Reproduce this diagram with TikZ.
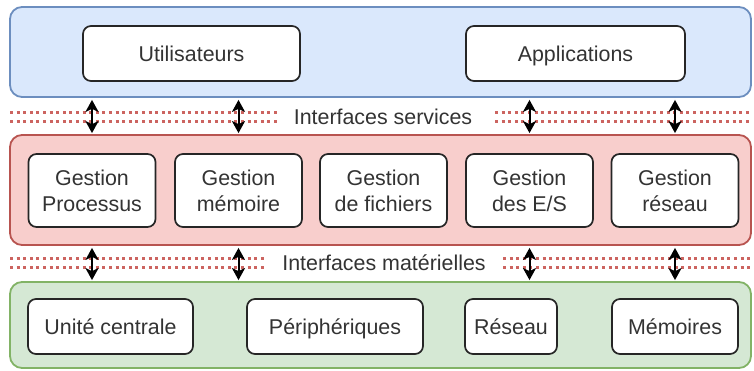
\documentclass[tikz,border=0pt]{standalone}
\usepackage{fontspec}
\setmainfont{Liberation Sans}
\usetikzlibrary{arrows.meta}

\definecolor{userfill}{HTML}{DAE8FC}
\definecolor{userdraw}{HTML}{6C8EBF}
\definecolor{sysfill}{HTML}{F8CECC}
\definecolor{sysdraw}{HTML}{B85450}
\definecolor{hwfill}{HTML}{D5E8D4}
\definecolor{hwdraw}{HTML}{82B366}
\definecolor{itfdots}{HTML}{CC6460}

\tikzset{
  layer/.style={draw, line width=1.8pt, rounded corners=12pt, inner sep=0pt,
                minimum width=741pt},
  bloc/.style={draw=black!85, fill=white, line width=1.7pt, rounded corners=8pt,
               inner sep=0pt, align=center, text=black!80},
  ligne/.style={text height=15.3pt, text depth=0pt},
  itf/.style={itfdots, line width=3pt, dash pattern=on 3pt off 3.6pt},
  biarrow/.style={line width=2pt, shorten <=2pt, shorten >=1pt,
    {Stealth[length=12pt,width=13pt,inset=3pt]}-{Stealth[length=12pt,width=13pt,inset=3pt]}},
  lbl/.style={text=black!80, inner sep=1pt}
}

\begin{document}
\begin{tikzpicture}[x=1pt,y=-1pt,font=\fontsize{21.4}{26}\selectfont]
\useasboundingbox (0,0) rectangle (754,371);

% les trois couches
\node[layer, fill=userfill, draw=userdraw, minimum height=90pt]  (usr) at (380.5,52)  {};
\node[layer, fill=sysfill,  draw=sysdraw,  minimum height=110pt] (sys) at (380.5,190) {};
\node[layer, fill=hwfill,   draw=hwdraw,   minimum height=86pt]  (hw)  at (380.5,325) {};

% couche utilisateur
\node[bloc, ligne, minimum width=217pt, minimum height=55pt] (users) at (191.5,53.5) {Utilisateurs};
\node[bloc, ligne, minimum width=219pt, minimum height=55pt] (apps)  at (575.5,53.5) {Applications};

% noyau
\node[bloc, minimum width=127pt, minimum height=73pt] (gproc) at (92,190.5)    {Gestion\\Processus};
\node[bloc, minimum width=127pt, minimum height=73pt] (gmem)  at (238.5,190.5) {Gestion\\mémoire};
\node[bloc, minimum width=127pt, minimum height=73pt] (gfich) at (383.5,190.5) {Gestion\\de fichiers};
\node[bloc, minimum width=127pt, minimum height=73pt] (ges)   at (529.5,190.5) {Gestion\\des E/S};
\node[bloc, minimum width=127pt, minimum height=73pt] (gres)  at (675,190.5)   {Gestion\\réseau};

% materiel
\node[bloc, ligne, minimum width=165pt, minimum height=55pt] (uc)     at (110.5,326.5) {Unité centrale};
\node[bloc, ligne, minimum width=176pt, minimum height=55pt] (periph) at (335,326.5)   {Périphériques};
\node[bloc, ligne, minimum width=92pt,  minimum height=55pt] (reseau) at (511,326.5)   {Réseau};
\node[bloc, ligne, minimum width=126pt, minimum height=55pt] (mem)    at (675,326.5)   {Mémoires};

% interfaces (pointilles)
\draw[itf] (10,113) -- (277,113);  \draw[itf] (495,113) -- (751,113);
\draw[itf] (10,122) -- (277,122);  \draw[itf] (495,122) -- (751,122);
\node[lbl] (isvc) at (383,117) {Interfaces services};

\draw[itf] (10,258) -- (266,258);  \draw[itf] (503,258) -- (751,258);
\draw[itf] (10,267) -- (266,267);  \draw[itf] (503,267) -- (751,267);
\node[lbl] (imat) at (384,263) {Interfaces matérielles};

% echanges entre couches
\foreach \col in {gproc,gmem,ges,gres}{
  \draw[biarrow] (\col |- usr.south) -- (\col |- sys.north);
  \draw[biarrow] (\col |- sys.south) -- (\col |- hw.north);
}

\end{tikzpicture}
\end{document}
